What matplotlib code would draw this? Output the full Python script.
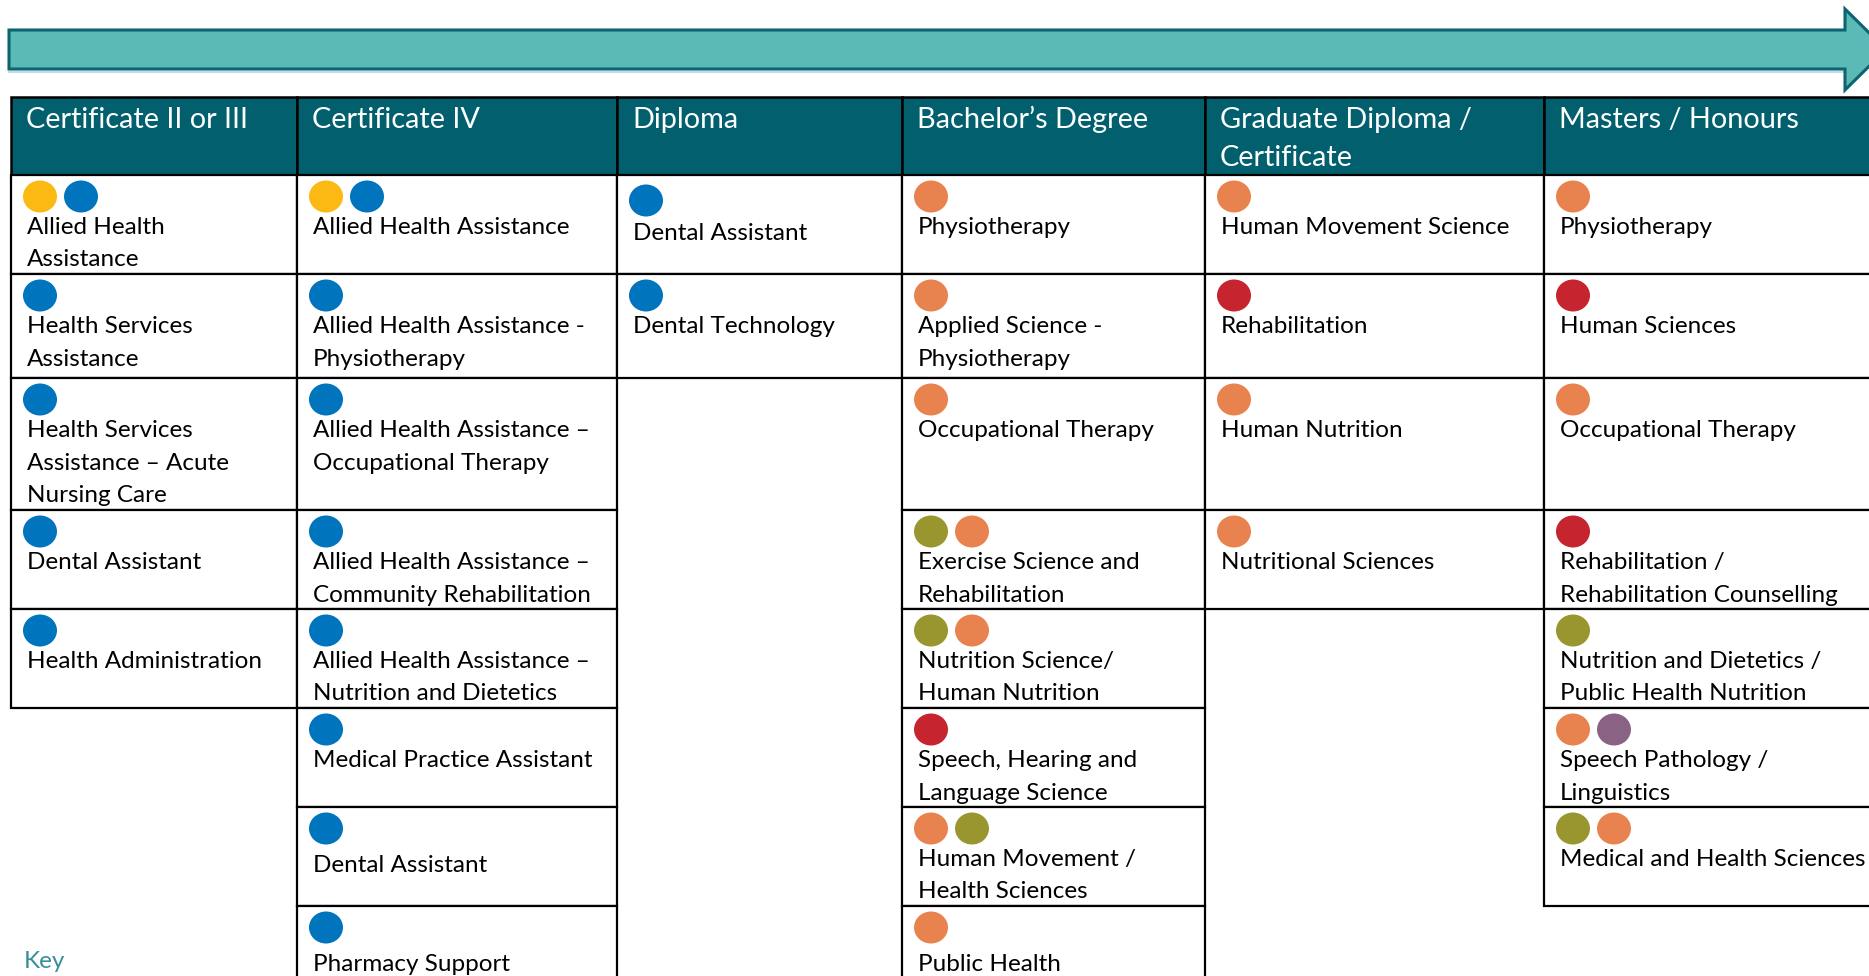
import matplotlib.pyplot as plt
from matplotlib.patches import Rectangle, Ellipse, Polygon

# qualification levels (column headers)
levels = ['Certificate II or III', 'Certificate IV', 'Diploma', 'Bachelor’s Degree',
          'Graduate Diploma /\nCertificate', 'Masters / Honours']

# courses per level and the coloured key dots shown above each course
cert3_courses = ['Allied Health\nAssistance', 'Health Services\nAssistance',
                 'Health Services\nAssistance – Acute\nNursing Care', 'Dental Assistant',
                 'Health Administration']
cert3_dots = ['YB', 'B', 'B', 'B', 'B']

cert4_courses = ['Allied Health Assistance', 'Allied Health Assistance -\nPhysiotherapy',
                 'Allied Health Assistance –\nOccupational Therapy',
                 'Allied Health Assistance –\nCommunity Rehabilitation',
                 'Allied Health Assistance –\nNutrition and Dietetics',
                 'Medical Practice Assistant', 'Dental Assistant', 'Pharmacy Support']
cert4_dots = ['YB', 'B', 'B', 'B', 'B', 'B', 'B', 'B']

diploma_courses = ['Dental Assistant', 'Dental Technology']
diploma_dots = ['B', 'B']

bachelor_courses = ['Physiotherapy', 'Applied Science -\nPhysiotherapy', 'Occupational Therapy',
                    'Exercise Science and\nRehabilitation', 'Nutrition Science/\nHuman Nutrition',
                    'Speech, Hearing and\nLanguage Science', 'Human Movement /\nHealth Sciences',
                    'Public Health']
bachelor_dots = ['O', 'O', 'O', 'GO', 'GO', 'R', 'OG', 'O']

graddip_courses = ['Human Movement Science', 'Rehabilitation', 'Human Nutrition',
                   'Nutritional Sciences']
graddip_dots = ['O', 'R', 'O', 'O']

masters_courses = ['Physiotherapy', 'Human Sciences', 'Occupational Therapy',
                   'Rehabilitation /\nRehabilitation Counselling',
                   'Nutrition and Dietetics /\nPublic Health Nutrition',
                   'Speech Pathology /\nLinguistics', 'Medical and Health Sciences']
masters_dots = ['O', 'R', 'O', 'R', 'G', 'OP', 'GO']

columns = [(cert3_courses, cert3_dots), (cert4_courses, cert4_dots),
           (diploma_courses, diploma_dots), (bachelor_courses, bachelor_dots),
           (graddip_courses, graddip_dots), (masters_courses, masters_dots)]

dot_colors = {'Y': '#FDB913', 'B': '#0074BD', 'O': '#E8834F', 'R': '#C6242F',
              'G': '#9A962F', 'P': '#8A6283'}

# layout in pixels (figure is 1869 x 976)
col_edges = [11, 297, 617, 902, 1205, 1544, 1910]
row_edges = [97, 175, 274, 378, 510, 609, 708, 807, 906, 1005]
header_color = '#02606E'
# some cells sit their text a little lower (column, row) -> px
text_shift = {(2, 0): 6, (1, 6): 6, (1, 7): 6, (3, 7): 6}
dot_shift = {(2, 0): 4}

plt.rcParams['font.family'] = ['Lato', 'DejaVu Sans']
fig = plt.figure(figsize=(18.69, 9.76), dpi=100)
ax = fig.add_axes([0, 0, 1, 1])
ax.set_xlim(0, 1869)
ax.set_ylim(976, 0)
ax.axis('off')

# big arrow at the top
arrow = Polygon([(9, 30), (1845, 30), (1845, 9), (1886, 49.5), (1845, 90), (1845, 69), (9, 69)],
                closed=True, facecolor='#5CBAB6', edgecolor='#0B6470', lw=2.2, zorder=2)
ax.add_patch(arrow)
ax.plot([9, 1845], [72, 72], color='#BFDDE8', lw=1.5, zorder=1)

# header row
for i, name in enumerate(levels):
    x0, x1 = col_edges[i], col_edges[i + 1]
    ax.add_patch(Rectangle((x0, row_edges[0]), x1 - x0, row_edges[1] - row_edges[0],
                           facecolor=header_color, edgecolor='black', lw=1.8, zorder=3))
    for k, line in enumerate(name.split('\n')):
        ax.text(x0 + 15, row_edges[0] + 31 + k * 38, line, color='white', fontsize=20.8,
                va='baseline', ha='left', zorder=4)

# course cells
for i, (courses, dots) in enumerate(columns):
    x0, x1 = col_edges[i], col_edges[i + 1]
    for j, (course, d) in enumerate(zip(courses, dots)):
        top, bot = row_edges[j + 1], row_edges[j + 2]
        ax.add_patch(Rectangle((x0, top), x1 - x0, bot - top, facecolor='white',
                               edgecolor='black', lw=1.6, zorder=3))
        dy = dot_shift.get((i, j), 0)
        for k, c in enumerate(d):
            ax.add_patch(Ellipse((x0 + 29 + k * 41, top + 21.5 + dy), 34, 32,
                                 facecolor=dot_colors[c], edgecolor='none', zorder=4))
        ty = text_shift.get((i, j), 0)
        for k, line in enumerate(course.split('\n')):
            ax.text(x0 + 16, top + 59 + ty + k * 32.5, line, color='black', fontsize=17.5,
                    va='baseline', ha='left', zorder=4)

ax.text(24, 968, 'Key', color='#3A8E9B', fontsize=17.5, va='baseline', ha='left')

fig.savefig('out.png', dpi=100)
